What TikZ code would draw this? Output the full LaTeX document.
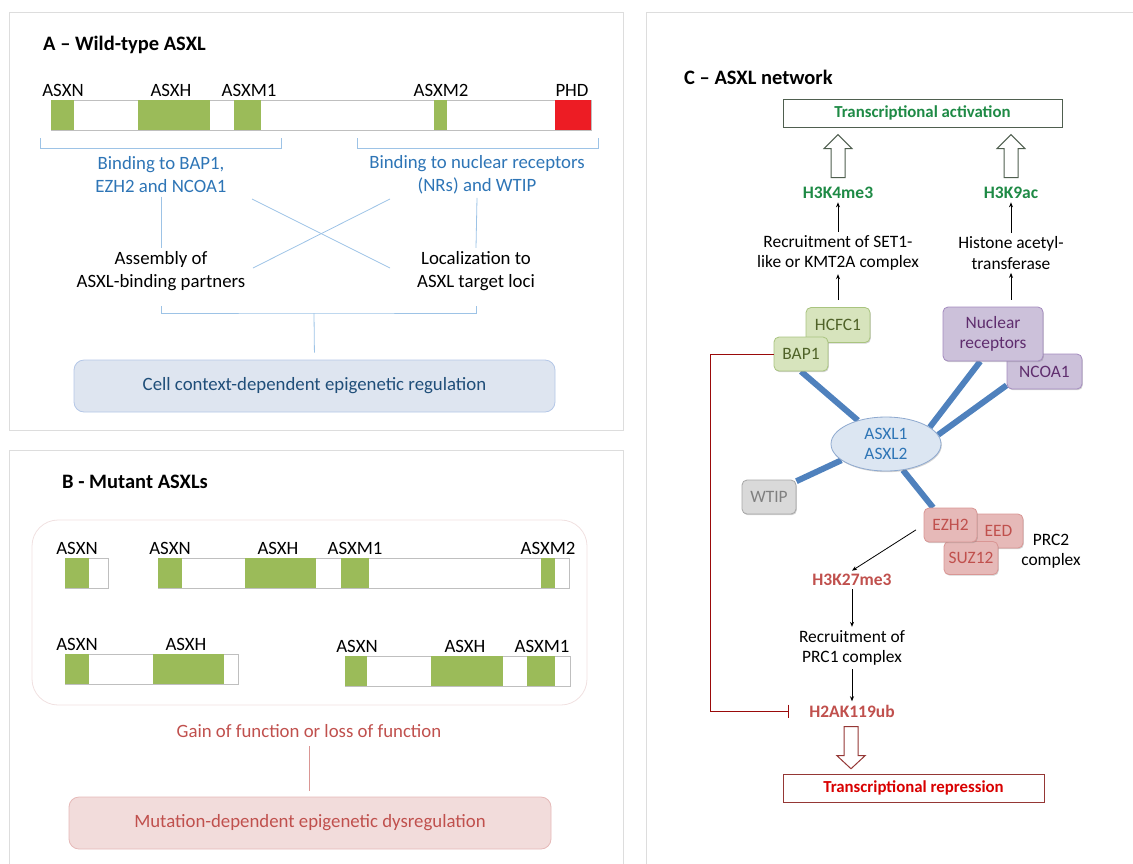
\documentclass[tikz,border=0pt]{standalone}
\usepackage{fontspec}
\setmainfont{Carlito}
\usepackage{tikz}
\usetikzlibrary{arrows.meta,positioning,calc,shapes.geometric,backgrounds,shadows}

\definecolor{framegray}{HTML}{DDDDDD}
\definecolor{bargray}{HTML}{BFBFBF}
\definecolor{asxgreen}{HTML}{9BBB59}
\definecolor{phdred}{HTML}{ED1C24}
\definecolor{txtblue}{HTML}{2E75B6}
\definecolor{brkblue}{HTML}{9DC3E6}
\definecolor{cellfill}{HTML}{DEE5F0}
\definecolor{cellborder}{HTML}{B4C7E7}
\definecolor{darkblue}{HTML}{1F4E79}
\definecolor{mutred}{HTML}{C0504D}
\definecolor{mutfill}{HTML}{F2DCDB}
\definecolor{mutborder}{HTML}{E6B9B8}
\definecolor{mutline}{HTML}{DA9694}
\definecolor{frameB}{HTML}{F0E0E0}
\definecolor{markgreen}{HTML}{1E8A45}
\definecolor{actborder}{HTML}{4F5F4F}
\definecolor{repred}{HTML}{D80000}
\definecolor{repborder}{HTML}{953735}
\definecolor{inhibred}{HTML}{9A0A0A}
\definecolor{hcfill}{HTML}{D7E4BD}
\definecolor{hcborder}{HTML}{A9C47F}
\definecolor{hctext}{HTML}{4F6228}
\definecolor{nrfill}{HTML}{CCC1DA}
\definecolor{nrborder}{HTML}{A48BBF}
\definecolor{nrtext}{HTML}{5F2D6E}
\definecolor{wtfill}{HTML}{D9D9D9}
\definecolor{wtborder}{HTML}{A6A6A6}
\definecolor{wttext}{HTML}{7F7F7F}
\definecolor{prcfill}{HTML}{E6B9B8}
\definecolor{prcborder}{HTML}{D99694}
\definecolor{ellfill}{HTML}{DCE6F2}
\definecolor{ellborder}{HTML}{8EA9CF}
\definecolor{linkblue}{HTML}{4F81BD}

\newcommand{\mainsize}{\fontsize{18.8}{23}\selectfont}
\newcommand{\netsize}{\fontsize{17.4}{20.5}\selectfont}
\newcommand{\marksize}{\fontsize{17.5}{20}\selectfont}

\tikzset{
  panel/.style={draw=framegray, line width=1pt},
  paneltitle/.style={font=\fontsize{20.5}{24}\selectfont\bfseries, inner sep=0pt, anchor=west},
  domlabel/.style={font=\mainsize, inner sep=1pt},
  barline/.style={draw=bargray, line width=0.8pt, fill=white},
  brkline/.style={draw=brkblue, line width=0.8pt},
  bluetext/.style={text=txtblue, align=center, font=\mainsize},
  plaintext/.style={align=center, font=\mainsize},
  cellbox/.style={draw=cellborder, fill=cellfill, rounded corners=10pt, line width=0.8pt,
    minimum width=481pt, minimum height=52pt, text=darkblue, font=\mainsize},
  mutframe/.style={draw=frameB, rounded corners=26pt, line width=0.8pt},
  redtext/.style={text=mutred, font=\mainsize},
  mutbox/.style={draw=mutborder, fill=mutfill, rounded corners=10pt, line width=0.8pt,
    minimum width=482pt, minimum height=52pt, text=mutred, font=\mainsize},
  redline/.style={draw=mutline, line width=0.8pt},
  statebox/.style={draw, line width=1pt, minimum width=279pt, minimum height=28pt,
    font=\fontsize{16.8}{20}\selectfont\bfseries},
  greenmark/.style={text=markgreen, font=\marksize\bfseries},
  redmark/.style={text=mutred, font=\marksize\bfseries},
  nettext/.style={align=center, font=\netsize},
  thinarr/.style={-{Stealth[length=5pt,width=4pt]}, line width=0.8pt},
  protbox/.style={rounded corners=5pt, line width=0.8pt, inner sep=0pt, align=center,
    font=\netsize, drop shadow={shadow xshift=0.8pt, shadow yshift=-1.2pt, opacity=0.35}},
  greenprot/.style={protbox, fill=hcfill, draw=hcborder, text=hctext},
  purpleprot/.style={protbox, fill=nrfill, draw=nrborder, text=nrtext},
  grayprot/.style={protbox, fill=wtfill, draw=wtborder, text=wttext},
  pinkprot/.style={protbox, fill=prcfill, draw=prcborder, text=mutred},
  link/.style={draw=linkblue, line width=6pt},
  hollow/.style={fill=white, line width=1pt}
}

\begin{document}
\begin{tikzpicture}[x=1pt,y=-1pt]
\useasboundingbox (0,0) rectangle (1133,863);
\clip (0,0) rectangle (1133,863);

% panel frames
\draw[panel] (9,12) rectangle (623,430);
\draw[panel] (9,880) -- (9,450) -- (623,450) -- (623,880);
\draw[panel] (1150,12) -- (646,12) -- (646,880);

%% ---------------- A: wild-type ----------------
\node[paneltitle] (titleA) at (43,45) {A – Wild-type ASXL};

% protein bar
\draw[barline] (51,100) rectangle (591,130);
\foreach \a/\b in {51/74,138/210,234/261,434/447}
  \fill[asxgreen] (\a,100) rectangle (\b,130);
\fill[phdred] (555,100) rectangle (591,130);
\foreach \x/\t in {63/ASXN,171/ASXH,249/ASXM1,441/ASXM2,572/PHD}
  \node[domlabel] (a-\t) at (\x,90) {\t};

% brackets under the bar
\draw[brkline] (40,138) -- (40,148) -- (281,148) -- (281,138);
\draw[brkline] (357,138) -- (357,148) -- (598,148) -- (598,138);

\node[bluetext] (bindL) at (161,175) {Binding to BAP1,\\EZH2 and NCOA1};
\node[bluetext] (bindR) at (477,175) {Binding to nuclear receptors\\(NRs) and WTIP};
\node[plaintext] (assem) at (161,271) {Assembly of\\ASXL-binding partners};
\node[plaintext] (local) at (476,271) {Localization to\\ASXL target loci};

\draw[brkline] (bindL.south) -- (assem.north);
\draw[brkline] (bindR.south) -- (local.north);
\coordinate (xa) at (252,199);
\coordinate (xb) at (390,268);
\coordinate (xc) at (390,199);
\coordinate (xd) at (253,268);
\draw[brkline] (xa) -- (xb);
\draw[brkline] (xc) -- (xd);

\node[cellbox] (cell) at (314.5,386) {Cell context-dependent epigenetic regulation};
\coordinate (join) at (314,313);
\draw[brkline] ($(assem.south)+(0,12)$) |- (join) -| ($(local.south)+(0,12)$);
\draw[brkline, shorten >=7pt] (join) -- (cell.north);

%% ---------------- B: mutants ----------------
\node[paneltitle] (titleB) at (62,482) {B - Mutant ASXLs};
\draw[mutframe] (32,520) rectangle (587,705);

% row 1
\draw[barline] (65,558) rectangle (108,588);
\fill[asxgreen] (65,558) rectangle (89,588);
\draw[barline] (158,558) rectangle (569,588);
\foreach \a/\b in {158/182,245/316,341/369,541/555}
  \fill[asxgreen] (\a,558) rectangle (\b,588);
\foreach \x/\t [count=\i] in {77/ASXN,170/ASXN,278/ASXH,355/ASXM1,548/ASXM2}
  \node[domlabel] (b1-\i) at (\x,548) {\t};

% row 2
\draw[barline] (65,654) rectangle (238,684);
\foreach \a/\b in {65/89,153/224}
  \fill[asxgreen] (\a,654) rectangle (\b,684);
\draw[barline] (345,656) rectangle (570,686);
\foreach \a/\b in {345/367,431/503,527/555}
  \fill[asxgreen] (\a,656) rectangle (\b,686);
\foreach \x/\y/\t [count=\i] in {77/644/ASXN,186/644/ASXH,357/646/ASXN,465/646/ASXH,542/646/ASXM1}
  \node[domlabel] (b2-\i) at (\x,\y) {\t};

\node[redtext] (gain) at (309,731) {Gain of function or loss of function};
\node[mutbox] (mut) at (310,823) {Mutation-dependent epigenetic dysregulation};
\draw[redline, shorten <=5pt, shorten >=6pt] (gain.south) -- (gain.south |- mut.north);

%% ---------------- C: network ----------------
\node[paneltitle] (titleC) at (684,77) {C – ASXL network};

\node[statebox, draw=actborder, text=markgreen] (act) at (922.5,113) {Transcriptional activation};
\node[greenmark] (k4) at (838,193) {H3K4me3};
\node[greenmark] (k9) at (1011,193) {H3K9ac};
\node[nettext] (rec1) at (838,253) {Recruitment of SET1-\\like or KMT2A complex};
\node[nettext] (hat) at (1011,253) {Histone acetyl-\\transferase};

% hollow arrows up
\foreach \m in {k4,k9}
  \draw[hollow, draw=actborder] ($(\m.north)+(-7,-6)$) -- ++(0,-29) -- ++(-7,0)
    -- ++(14,-14) -- ++(14,14) -- ++(-7,0) -- ++(0,29) -- cycle;

% partner proteins
\node[greenprot, minimum width=64pt, minimum height=35pt] (hcfc) at (838,325) {HCFC1};
\node[greenprot, minimum width=54pt, minimum height=34pt] (bap) at (801,354) {BAP1};
\node[purpleprot, minimum width=75pt, minimum height=35pt] (ncoa) at (1044.5,371.5) {NCOA1};
\node[purpleprot, minimum width=100pt, minimum height=54pt] (nr) at (993,334) {Nuclear\\receptors};
\node[ellipse, draw=ellborder, fill=ellfill, line width=0.8pt, minimum width=110pt, minimum height=54pt,
  inner sep=0pt, align=center, text=txtblue, font=\netsize,
  drop shadow={shadow xshift=0.8pt, shadow yshift=-1.2pt, opacity=0.35}] (asxl) at (886,444) {ASXL1\\ASXL2};
\node[grayprot, minimum width=54pt, minimum height=34pt] (wtip) at (769,497) {WTIP};
\node[pinkprot, minimum width=53pt, minimum height=34pt] (eed) at (996.5,531) {\hspace*{4pt}EED};
\node[pinkprot, minimum width=54pt, minimum height=33pt] (suz) at (971,558) {SUZ12};
\node[pinkprot, minimum width=53pt, minimum height=34pt] (ezh) at (950.5,525) {EZH2};
\node[nettext] (prc2) at (1051,551) {PRC2\\complex};

% ASXL links
\begin{scope}[on background layer]
  \draw[link] (bap.south) -- (asxl.140);
  \draw[link] (nr.245) -- (asxl.21);
  \draw[link] (ncoa.200) -- (asxl.10);
  \draw[link] (wtip.30) -- (asxl.200);
  \draw[link] (asxl.-57) -- (ezh.135);
\end{scope}

\draw[thinarr, shorten <=7pt] (hcfc.north) -- (rec1.south);
\draw[thinarr] (rec1.north) -- (k4.south);
\draw[thinarr, shorten <=7pt] (hat.south |- nr.north) -- (hat.south);
\draw[thinarr] (hat.north) -- (k9.south);

% repression branch
\node[redmark] (k27) at (852,580) {H3K27me3};
\node[nettext] (prc1) at (852,648) {Recruitment of\\PRC1 complex};
\node[redmark] (h2a) at (852,711) {H2AK119ub};
\node[statebox, draw=repborder, text=repred, minimum width=261pt] (rep) at (913.5,788) {Transcriptional repression};

\draw[thinarr, shorten <=9pt] (ezh.west) -- (k27.north);
\draw[thinarr] (k27.south) -- (prc1.north);
\draw[thinarr] (prc1.south) -- (h2a.north);

\draw[hollow, draw=repborder] ($(h2a.south)+(-8,6)$) -- ++(0,29) -- ++(-7,0)
  -- ++(14,13) -- ++(14,-13) -- ++(-7,0) -- ++(0,-29) -- cycle;

% BAP1 inhibits H2AK119ub
\draw[draw=inhibred, line width=1pt, -{Bar[width=13pt]}, shorten >=17pt]
  (bap.west) -- ++(-63,0) |- (h2a.west);

\end{tikzpicture}
\end{document}
